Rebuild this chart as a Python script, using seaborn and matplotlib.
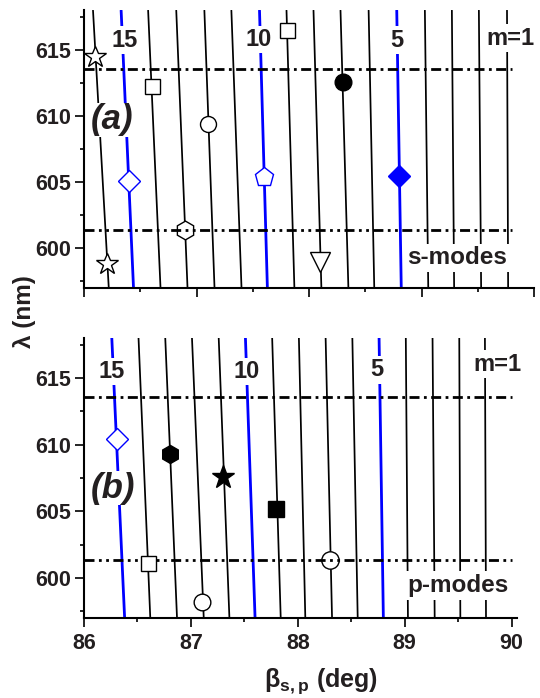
import numpy as np
import pandas as pd
import matplotlib
matplotlib.use("Agg")
import matplotlib.pyplot as plt
import seaborn as sns

sns.set_theme(style="ticks")
plt.rcParams["font.family"] = ["Liberation Sans", "DejaVu Sans"]
plt.rcParams["font.weight"] = "bold"
plt.rcParams["mathtext.default"] = "regular"

INK = "#231f20"
BLUE = "#0000ff"

# wavelength range spanned by the dispersion curves
LAM_TOP, LAM_BOT = 618.0, 597.0

# s-polarised modes m = 1..16: angle at the top and bottom of the range
s_modes = list(range(1, 17))
s_beta_top = [89.76, 89.51, 89.27, 89.03, 88.78, 88.53, 88.28, 88.04,
              87.80, 87.56, 87.31, 87.07, 86.82, 86.57, 86.33, 86.08]
s_beta_bot = [89.77, 89.53, 89.29, 89.06, 88.82, 88.58, 88.35, 88.11,
              87.87, 87.63, 87.40, 87.16, 86.92, 86.68, 86.44, 86.22]

# p-polarised modes m = 1..15
p_modes = list(range(1, 16))
p_beta_top = [89.75, 89.51, 89.26, 89.01, 88.76, 88.51, 88.26, 88.01,
              87.76, 87.51, 87.26, 87.01, 86.76, 86.51, 86.26]
p_beta_bot = [89.76, 89.52, 89.28, 89.03, 88.80, 88.56, 88.32, 88.07,
              87.84, 87.60, 87.36, 87.12, 86.87, 86.62, 86.38]

highlighted = [5, 10, 15]

# reference wavelengths (horizontal lines)
lam_upper = 613.55
lam_lower = 601.38
s_hline_end = 89.80
p_hline_end = 90.00

# measured points: beta, lambda, marker, face, edge, size, below_hline
s_pts_beta = [86.10, 86.60, 87.80, 87.10, 88.30, 86.40, 87.60, 88.80, 86.90, 86.20, 88.10]
s_pts_lam = [614.45, 612.3, 616.5, 609.4, 612.6, 605.1, 605.4, 605.45, 601.38, 598.8, 598.95]
s_pts_marker = ["*", "s", "s", "o", "o", "D", "p", "D", "h", "*", "v"]
s_pts_face = ["white", "white", "white", "white", "black", "white", "white", BLUE, "white", "white", "white"]
s_pts_edge = ["black", "black", "black", "black", "black", BLUE, BLUE, BLUE, "black", "black", "black"]
s_pts_size = [16.5, 10.8, 10.8, 11.5, 12.0, 11.2, 14.0, 11.2, 13.5, 16.5, 14.0]
s_pts_under = [False] * 8 + [True, False, False]

p_pts_beta = [86.31, 86.80, 87.30, 87.80, 86.60, 87.10, 88.30]
p_pts_lam = [610.4, 609.3, 607.55, 605.2, 601.1, 598.2, 601.38]
p_pts_marker = ["D", "h", "*", "s", "s", "o", "o"]
p_pts_face = ["white", "black", "black", "black", "white", "white", "white"]
p_pts_edge = [BLUE, "black", "black", "black", "black", "black", "black"]
p_pts_size = [11.2, 13.0, 17.0, 11.3, 10.8, 12.0, 12.5]
p_pts_under = [False] * 6 + [True]

# mode-number labels
s_lbl_text = ["15", "10", "5", "m=1"]
s_lbl_beta = [86.36, 87.55, 88.78, 89.79]
s_lbl_lam = [615.75, 615.8, 615.75, 615.9]
p_lbl_text = ["15", "10", "5", "m=1"]
p_lbl_beta = [86.26, 87.52, 88.74, 89.87]
p_lbl_lam = [615.47, 615.47, 615.6, 616.05]

fig = plt.figure(figsize=(5.4, 6.98), dpi=100)
ax_s = fig.add_axes([84 / 540, (698 - 287.6) / 698, 450 / 540, 277.2 / 698])
ax_p = fig.add_axes([84 / 540, (698 - 618) / 698, 433 / 540, 280 / 698])


def draw_panel(ax, modes, b_top, b_bot, pts, hline_end, lbls, tag, tag_xy, kind, kind_xy, xmax):
    # dispersion lines
    df = pd.DataFrame({
        "beta": np.concatenate([b_top, b_bot]),
        "lam": [LAM_TOP] * len(modes) + [LAM_BOT] * len(modes),
        "m": list(modes) * 2,
    })
    for m, g in df.groupby("m"):
        hi = m in highlighted
        sns.lineplot(data=g, x="beta", y="lam", sort=False, estimator=None, ax=ax,
                     color=BLUE if hi else "black", lw=2.0 if hi else 1.25, zorder=1)
    # reference wavelengths
    ax.plot([86, hline_end], [lam_upper, lam_upper], color="black", lw=2.0,
            dashes=(3.6, 1.6, 1.0, 1.6), zorder=3)
    ax.plot([86, hline_end], [lam_lower, lam_lower], color="black", lw=2.0,
            dashes=(3.6, 1.6, 1.0, 1.6, 1.0, 1.6), zorder=3)
    # measured points
    for b, l, mk, fc, ec, ms, under in zip(*pts):
        ax.plot([b], [l], marker=mk, ms=ms, mfc=fc, mec=ec, mew=1.0,
                ls="none", zorder=2.5 if under else 4)
    box = dict(facecolor="white", edgecolor="none", pad=1.5)
    for t, b, l in zip(*lbls):
        ax.text(b, l, t, ha="center", va="center", fontsize=17, fontweight="bold",
                color=INK, bbox=box, zorder=5)
    ax.text(*tag_xy, tag, ha="center", va="center", fontsize=25, fontweight="bold",
            fontstyle="italic", color=INK, bbox=dict(facecolor="white", edgecolor="none", pad=0.5),
            zorder=5)
    ax.text(*kind_xy, kind, ha="center", va="center", fontsize=17.5, fontweight="bold",
            color=INK, bbox=dict(facecolor="white", edgecolor="none", pad=2), zorder=5)

    ax.set_xlim(86, xmax)
    ax.set_ylim(LAM_BOT, LAM_TOP)
    ax.set_xlabel("")
    ax.set_ylabel("")
    ax.set_xticks([86, 87, 88, 89, 90])
    ax.set_xticks(np.arange(86.5, 90, 1.0), minor=True)
    ax.set_yticks([600, 605, 610, 615])
    ax.set_yticks([597.5, 602.5, 607.5, 612.5, 617.5], minor=True)
    ax.tick_params(which="major", direction="out", length=6.5, width=1.2,
                   labelsize=15.5, colors="black", labelcolor=INK, pad=2.5)
    ax.tick_params(which="minor", direction="out", length=3.2, width=1.2, colors="black")
    ax.tick_params(axis="x", which="major", pad=4)
    for lab in ax.get_xticklabels() + ax.get_yticklabels():
        lab.set_fontweight("bold")
    for side in ("top", "right"):
        ax.spines[side].set_visible(False)
    for side in ("left", "bottom"):
        ax.spines[side].set_linewidth(1.5)
        ax.spines[side].set_color("black")


draw_panel(ax_s, s_modes, s_beta_top, s_beta_bot,
           (s_pts_beta, s_pts_lam, s_pts_marker, s_pts_face, s_pts_edge, s_pts_size, s_pts_under),
           s_hline_end, (s_lbl_text, s_lbl_beta, s_lbl_lam),
           "(a)", (86.25, 609.7), "s-modes", (89.32, 599.25), 90.0)
draw_panel(ax_p, p_modes, p_beta_top, p_beta_bot,
           (p_pts_beta, p_pts_lam, p_pts_marker, p_pts_face, p_pts_edge, p_pts_size, p_pts_under),
           p_hline_end, (p_lbl_text, p_lbl_beta, p_lbl_lam),
           "(b)", (86.27, 606.75), "p-modes", (89.5, 599.45), 90.05)

ax_s.tick_params(axis="x", labelbottom=False)

fig.text(24 / 540, 1 - 312 / 698, "λ (nm)", rotation=90, ha="center", va="center",
         fontsize=17.5, fontweight="bold", color=INK)
fig.text(321 / 540, 1 - 681 / 698, r"$\beta_{s,p}$ (deg)", ha="center", va="center",
         fontsize=18, fontweight="bold", color=INK)

fig.savefig("out.png", dpi=100)
